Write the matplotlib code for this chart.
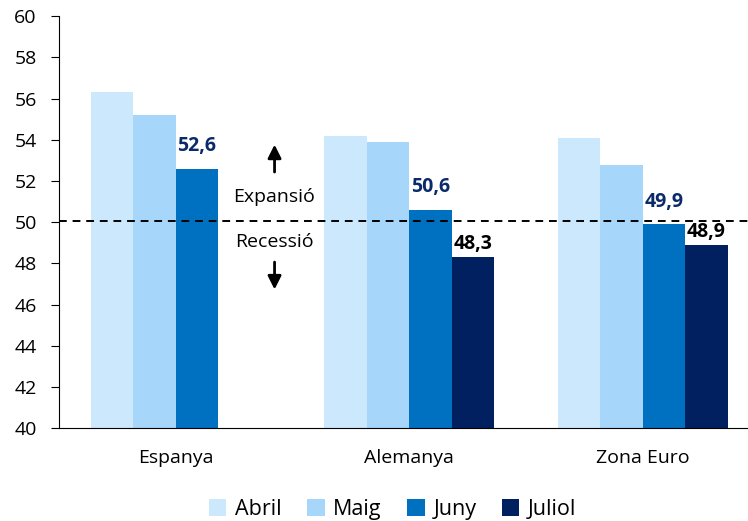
import numpy as np
import matplotlib.pyplot as plt

plt.rcParams['font.family'] = ['Open Sans', 'DejaVu Sans']

categories = ['Espanya', 'Alemanya', 'Zona Euro']
series = ['Abril', 'Maig', 'Juny', 'Juliol']
abril = [56.3, 54.2, 54.1]
maig = [55.2, 53.9, 52.8]
juny = [52.6, 50.6, 49.9]
juliol = [np.nan, 48.3, 48.9]
colors = ['#CCE8FD', '#A6D6FA', '#0070C0', '#002060']

fig = plt.figure(figsize=(7.48, 5.21), dpi=100)
ax = fig.add_axes([0.079, 0.178, 0.93, 0.791])

x = np.arange(len(categories))
w = 0.182
values = [abril, maig, juny, juliol]
for i, (name, vals, c) in enumerate(zip(series, values, colors)):
    pos = x + (i - 1.5) * w
    ax.bar(pos, vals, width=w, color=c, label=name)
    if name == 'Juny':
        for p, v in zip(pos, vals):
            ax.annotate(f'{v:.1f}'.replace('.', ','), (p, v), xytext=(0, 9),
                        textcoords='offset points', ha='center', va='bottom',
                        fontsize=14, fontweight='bold', color='#0B2A6B')
    if name == 'Juliol':
        for p, v in zip(pos, vals):
            if not np.isnan(v):
                ax.annotate(f'{v:.1f}'.replace('.', ','), (p, v), xytext=(0, 2),
                            textcoords='offset points', ha='center', va='bottom',
                            fontsize=14, fontweight='bold', color='black')

ax.axhline(50.05, color='black', linestyle=(0, (4, 3)), linewidth=1.4)

# expansio / recessio markers
ax.annotate('', xy=(0.423, 53.9), xytext=(0.423, 52.3),
            arrowprops=dict(arrowstyle='-|>', color='black', lw=2, mutation_scale=20))
ax.annotate('', xy=(0.423, 46.6), xytext=(0.423, 48.2),
            arrowprops=dict(arrowstyle='-|>', color='black', lw=2, mutation_scale=20))
ax.text(0.423, 51.2, 'Expansió', ha='center', va='center', fontsize=14)
ax.text(0.423, 49.05, 'Recessió', ha='center', va='center', fontsize=14)

ax.set_ylim(40, 60)
ax.set_xlim(-0.5, 2.48)
ax.set_yticks(range(40, 61, 2))
ax.set_xticks(x)
ax.set_xticklabels(categories, fontsize=14)
ax.tick_params(axis='y', labelsize=14, length=6, pad=10)
ax.tick_params(axis='x', length=0, pad=15)
ax.spines['top'].set_visible(False)
ax.spines['right'].set_visible(False)

fig.legend(loc='lower center', bbox_to_anchor=(0.525, -0.035), ncol=4, frameon=False,
           fontsize=15.5, handlelength=0.8, handleheight=0.8, handletextpad=0.4, columnspacing=1.2)

fig.savefig('out.png', dpi=100)
